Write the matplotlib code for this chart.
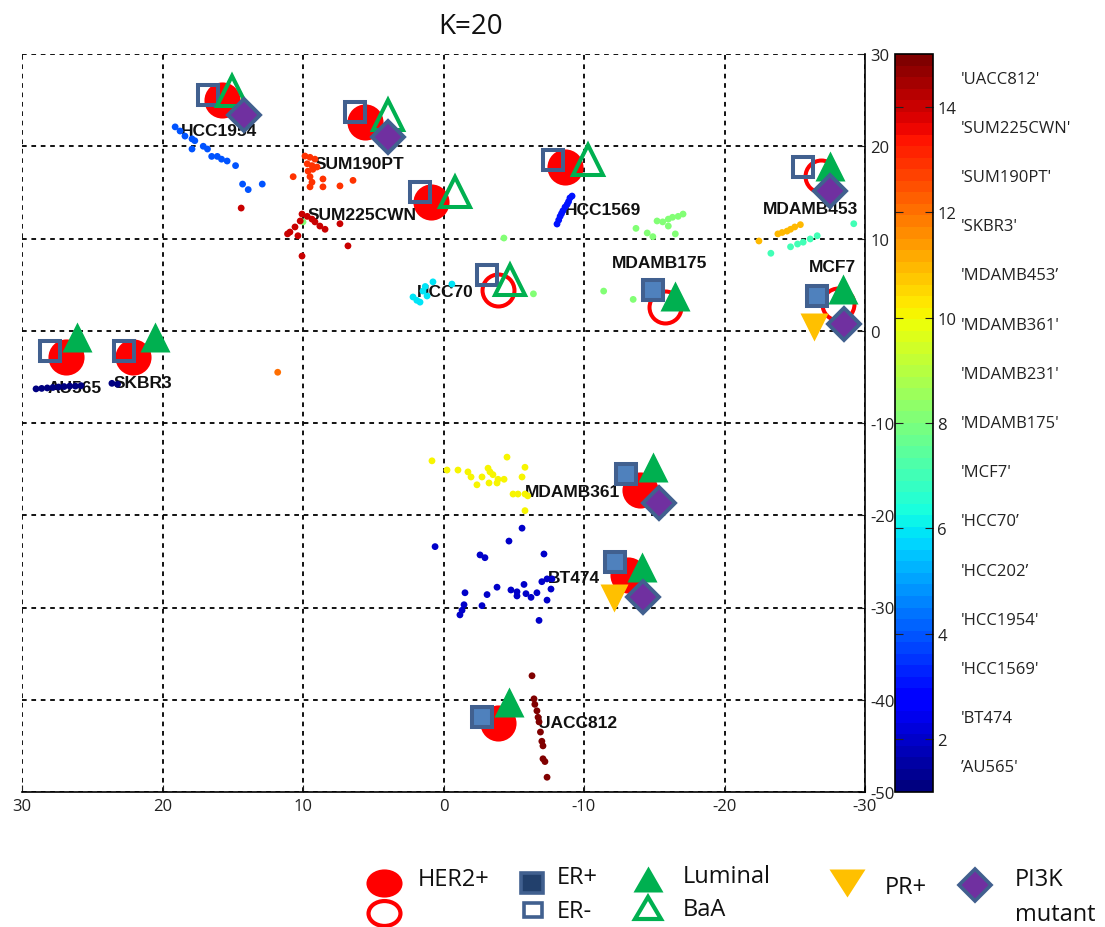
import matplotlib
matplotlib.use("Agg")
import matplotlib.pyplot as plt
from matplotlib.markers import MarkerStyle
from matplotlib.transforms import Affine2D, blended_transform_factory
from matplotlib.colors import Normalize
import matplotlib.cm as cm

plt.rcParams['font.family'] = ['Open Sans', 'DejaVu Sans']
plt.rcParams['axes.unicode_minus'] = False

# colour bar classes, value 1..15
class_labels = ["\u2019AU565'", "'BT474", "'HCC1569'", "'HCC1954'", "'HCC202\u2019",
                "'HCC70\u2019", "'MCF7'", "'MDAMB175'", "'MDAMB231'", "'MDAMB361'",
                "'MDAMB453\u2019", "'SKBR3'", "'SUM190PT'", "'SUM225CWN'", "'UACC812'"]

# embedded points per class
au565_x = [29.0, 28.6, 28.2, 27.8, 27.4, 27.0, 26.6, 26.2, 25.8, 23.6, 23.2]
au565_y = [-6.3, -6.25, -6.2, -6.15, -6.1, -6.05, -6.0, -6.0, -5.95, -5.7, -5.8]
bt474_x = [0.6, -2.6, -2.95, -4.66, -5.59, -7.15, -1.53, -3.1, -3.81, -4.8, -5.23, -5.23, -5.73,
           -5.87, -6.23, -6.65, -7.0, -7.37, -7.72, -7.65, -7.37, -6.8, -2.74, -1.46, -1.32, -1.17]
bt474_y = [-23.4, -24.3, -24.6, -22.8, -21.4, -24.2, -28.4, -28.6, -27.8, -28.1, -28.3, -28.75, -27.5,
           -28.5, -28.9, -28.4, -27.2, -26.9, -26.9, -28.0, -29.2, -31.4, -29.8, -29.7, -30.3, -30.8]
hcc1569_x = [-8.08, -8.2, -8.3, -8.4, -8.5, -8.65, -8.8, -8.9, -9.0, -9.15]
hcc1569_y = [11.57, 12.0, 12.4, 12.7, 13.0, 13.4, 13.7, 14.0, 14.4, 14.6]
hcc1954_x = [19.1, 18.75, 18.4, 17.9, 17.7, 17.9, 17.1, 16.8, 16.5, 16.1, 15.8, 15.4, 14.8, 14.3, 13.9, 12.9]
hcc1954_y = [22.1, 21.65, 21.1, 20.8, 20.6, 19.7, 20.0, 19.7, 18.9, 18.9, 18.6, 18.4, 17.9, 15.9, 15.3, 15.9]
hcc70_x = [2.17, 1.67, 1.17, 0.75, 1.46, -0.6, 1.9, 1.3]
hcc70_y = [3.66, 3.1, 3.77, 5.3, 4.3, 5.06, 3.3, 4.8]
mcf7_x = [-23.3, -24.7, -25.2, -25.6, -26.1, -26.6, -29.2]
mcf7_y = [8.4, 9.1, 9.4, 9.6, 9.95, 10.3, 11.6]
mdamb175_x = [-4.3, -13.7, -14.5, -14.9, -15.2, -15.6, -16.0, -16.3, -16.7, -17.05, -16.0, -16.5,
              -11.4, -13.5, -6.4, 10.0]
mdamb175_y = [10.05, 11.1, 10.6, 10.2, 11.9, 11.8, 12.1, 12.3, 12.4, 12.65, 11.35, 10.5,
              4.3, 3.4, 4.0, 11.8]
mdamb361_x = [0.82, -0.25, -1.03, -1.74, -1.96, -2.74, -3.17, -3.31, -3.52, -3.88, -4.31, -4.52, -5.8,
              -5.59, -3.24, -3.81, -2.38, -4.95, -5.3, -5.8, -6.0, -5.8]
mdamb361_y = [-14.1, -15.1, -15.1, -15.3, -15.85, -15.85, -14.9, -15.3, -15.6, -16.1, -16.1, -13.7, -14.8,
              -15.85, -16.5, -16.5, -16.7, -17.7, -17.7, -17.7, -17.9, -19.5]
mdamb453_x = [-22.45, -23.8, -24.1, -24.45, -24.7, -25.0, -25.4]
mdamb453_y = [9.73, 10.5, 10.65, 10.8, 11.0, 11.25, 11.5]
skbr3_x = [11.8]
skbr3_y = [-4.5]
sum190pt_x = [9.86, 9.5, 9.15, 9.7, 9.36, 9.0, 9.64, 9.3, 10.7, 9.5, 9.36, 9.5, 8.58, 8.58, 7.37, 6.44]
sum190pt_y = [18.94, 18.8, 18.6, 18.1, 17.9, 17.75, 17.3, 17.5, 16.7, 16.7, 16.1, 15.6, 16.45, 15.6, 15.7, 16.3]
sum225cwn_x = [14.4, 10.07, 9.7, 9.36, 9.15, 8.8, 8.43, 7.37, 10.2, 10.57, 10.93, 11.1, 10.36, 6.8, 10.07]
sum225cwn_y = [13.3, 12.65, 12.4, 12.1, 11.8, 11.35, 11.0, 11.6, 11.9, 11.25, 10.7, 10.5, 10.3, 9.2, 8.1]
uacc812_x = [-6.3, -6.44, -6.5, -6.65, -6.73, -6.8, -6.9, -7.0, -7.08, -7.08, -7.22, -7.37]
uacc812_y = [-37.4, -39.9, -40.5, -41.2, -41.9, -42.4, -43.5, -44.5, -45.0, -46.4, -46.7, -48.4]

clusters = [(1, au565_x, au565_y), (2, bt474_x, bt474_y), (3, hcc1569_x, hcc1569_y),
            (4, hcc1954_x, hcc1954_y), (6, hcc70_x, hcc70_y), (7, mcf7_x, mcf7_y),
            (8, mdamb175_x, mdamb175_y), (10, mdamb361_x, mdamb361_y), (11, mdamb453_x, mdamb453_y),
            (12, skbr3_x, skbr3_y), (13, sum190pt_x, sum190pt_y), (14, sum225cwn_x, sum225cwn_y),
            (15, uacc812_x, uacc812_y)]

# cell lines with annotation markers
names = ['HCC1954', 'SUM190PT', 'SUM225CWN', 'HCC1569', 'MDAMB453', 'HCC70', 'MDAMB175',
         'MCF7', 'AU565', 'SKBR3', 'MDAMB361', 'BT474', 'UACC812']
label_x = [18.7, 9.15, 9.64, -8.65, -22.7, 1.9, -12.0, -26.0, 28.2, 23.5, -5.8, -7.44, -6.73]
label_y = [21.76, 18.1, 12.65, 13.1, 13.2, 4.3, 7.45, 7.0, -6.2, -5.66, -17.4, -26.8, -42.5]
her2_x = [15.77, 5.59, 0.89, -8.65, -26.9, -3.88, -15.8, -28.1, 26.9, 22.1, -14.0, -13.1, -3.9]
her2_y = [25.0, 22.6, 13.96, 17.75, 16.8, 4.4, 2.6, 2.9, -2.85, -2.85, -17.3, -26.5, -42.5]
her2_pos = [1, 1, 1, 1, 0, 0, 0, 0, 1, 1, 1, 1, 1]
er_x = [16.76, 6.3, 1.67, -7.79, -25.6, -3.1, -14.9, -26.6, 28.0, 22.74, -13.0, -12.2, -2.74]
er_y = [25.56, 23.7, 15.04, 18.5, 17.75, 6.04, 4.42, 3.77, -2.2, -2.2, -15.5, -25.1, -41.9]
er_pos = [0, 0, 0, 0, 0, 0, 1, 1, 0, 0, 1, 1, 1]
sub_x = [15.05, 3.95, -0.82, -10.3, -27.5, -4.73, -16.5, -28.4, 26.1, 20.53, -14.9, -14.13, -4.66]
sub_y = [26.0, 23.4, 15.04, 18.5, 17.86, 5.5, 3.77, 4.53, -0.68, -0.68, -14.77, -25.6, -40.2]
luminal = [0, 0, 0, 0, 1, 0, 1, 1, 1, 1, 1, 1, 1]
pr_x = [-26.37, -12.13]
pr_y = [0.4, -28.97]
pi3k_x = [14.2, 3.95, -27.5, -28.5, -15.34, -14.2]
pi3k_y = [23.4, 21.0, 15.15, 0.73, -18.67, -28.86]

RED = '#FF0000'
SQ_EDGE = '#41608F'
SQ_FACE = '#4F81BD'
GREEN = '#00B050'
GOLD = '#FFC000'
PURPLE = '#7030A0'

fig = plt.figure(figsize=(11.05, 9.28), dpi=100)
W, H = 1105.0, 928.0
ax = fig.add_axes([22 / W, 1 - 793 / H, 843 / W, 738 / H])
cax = fig.add_axes([895 / W, 1 - 793 / H, 38 / W, 738 / H])

cmap = plt.get_cmap('jet', 64)
norm = Normalize(1, 15)

ax.set_xlim(30, -30)
ax.set_ylim(-50, 30)
ax.set_xticks(range(30, -31, -10))
ax.set_yticks(range(-50, 31, 10))
ax.yaxis.tick_right()
ax.tick_params(direction='in', length=5, labelsize=12, pad=4, colors='#222222')
ax.grid(True, color='black', linestyle=(0, (2.6, 2.6)), linewidth=1.3)
ax.set_axisbelow(True)
for s in ['top', 'left']:
    ax.spines[s].set_visible(False)
for s in ['bottom', 'right']:
    ax.spines[s].set_linewidth(1.2)

# HER2 circles
for x, y, p in zip(her2_x, her2_y, her2_pos):
    if p:
        ax.plot(x, y, 'o', ms=26, color=RED, mec='none', zorder=2)
    else:
        ax.plot(x, y, 'o', ms=23, mfc='none', mec=RED, mew=2.9, zorder=2)

for n, x, y in zip(names, label_x, label_y):
    ax.text(x, y, n, ha='left', va='center', fontsize=12.5, fontweight='bold',
            family=['Liberation Sans', 'DejaVu Sans'], color='#111111', zorder=3)

for c, xs, ys in clusters:
    ax.scatter(xs, ys, c=[c] * len(xs), cmap=cmap, norm=norm, s=24, edgecolors='none', zorder=4)

for x, y, p in zip(er_x, er_y, er_pos):
    ax.plot(x, y, 's', ms=15, mfc=SQ_FACE if p else 'none', mec=SQ_EDGE, mew=2.9, zorder=5)

for x, y, p in zip(sub_x, sub_y, luminal):
    if p:
        ax.plot(x, y, '^', ms=22, color=GREEN, mec='none', zorder=6)
    else:
        ax.plot(x, y, '^', ms=21, mfc='none', mec=GREEN, mew=2.9, zorder=6)

ax.plot(pr_x, pr_y, 'v', ms=20, color=GOLD, mec='none', linestyle='none', zorder=7)
ax.plot(pi3k_x, pi3k_y, 'D', ms=16, mfc=PURPLE, mec=SQ_EDGE, mew=2.8, linestyle='none', zorder=8)

# colour bar
sm = cm.ScalarMappable(norm=norm, cmap=cmap)
cb = fig.colorbar(sm, cax=cax, ticks=[2, 4, 6, 8, 10, 12, 14])
cb.outline.set_linewidth(1.2)
cax.tick_params(direction='in', left=True, right=True, length=6, labelsize=12, pad=3,
                colors='#222222')
tr = blended_transform_factory(cax.transAxes, cax.transData)
for k, lab in enumerate(class_labels):
    cax.text(1.74, 1 + (k + 0.5) * 14 / 15, lab, transform=tr, ha='left', va='center',
             fontsize=12, color='#222222')

fig.text(471 / W, 1 - 27 / H, 'K=20', ha='center', va='center', fontsize=20, color='#111111')

# legend
lax = fig.add_axes([0, 0, 1, 83 / H])
lax.set_xlim(0, W)
lax.set_ylim(H, H - 83)
lax.axis('off')


def ms(m, sx, sy):
    return MarkerStyle(m, transform=Affine2D().scale(sx, sy))


lax.plot(384, 884, marker=ms('o', 1, 0.78), ms=26, color=RED, mec='none')
lax.plot(384, 914, marker=ms('o', 1, 0.78), ms=23, mfc='none', mec=RED, mew=3)
lax.plot(532, 884, marker=ms('s', 1, 0.88), ms=16, mfc='#22406C', mec=SQ_EDGE, mew=2.6)
lax.plot(533, 911, marker=ms('s', 1, 0.82), ms=13, mfc='none', mec=SQ_EDGE, mew=2.6)
lax.plot(648, 880, marker=ms('^', 1, 0.83), ms=22, color=GREEN, mec='none')
lax.plot(648, 909, marker=ms('^', 1, 0.85), ms=19, mfc='none', mec=GREEN, mew=3)
lax.plot(847, 884, marker=ms('v', 1, 0.78), ms=26, color=GOLD, mec='none')
lax.plot(975, 886, marker='D', ms=16, mfc=PURPLE, mec=SQ_EDGE, mew=2.6)

leg_font = dict(fontsize=17, color='#111111', ha='left', va='center')
lax.text(418, 880, 'HER2+', **leg_font)
lax.text(557, 878, 'ER+', **leg_font)
lax.text(557, 912, 'ER-', **leg_font)
lax.text(683, 877, 'Luminal', **leg_font)
lax.text(683, 910, 'BaA', **leg_font)
lax.text(885, 888, 'PR+', **leg_font)
lax.text(1015, 880, 'PI3K', **leg_font)
lax.text(1015, 915, 'mutant', **leg_font)

fig.savefig('out.png', dpi=100)
